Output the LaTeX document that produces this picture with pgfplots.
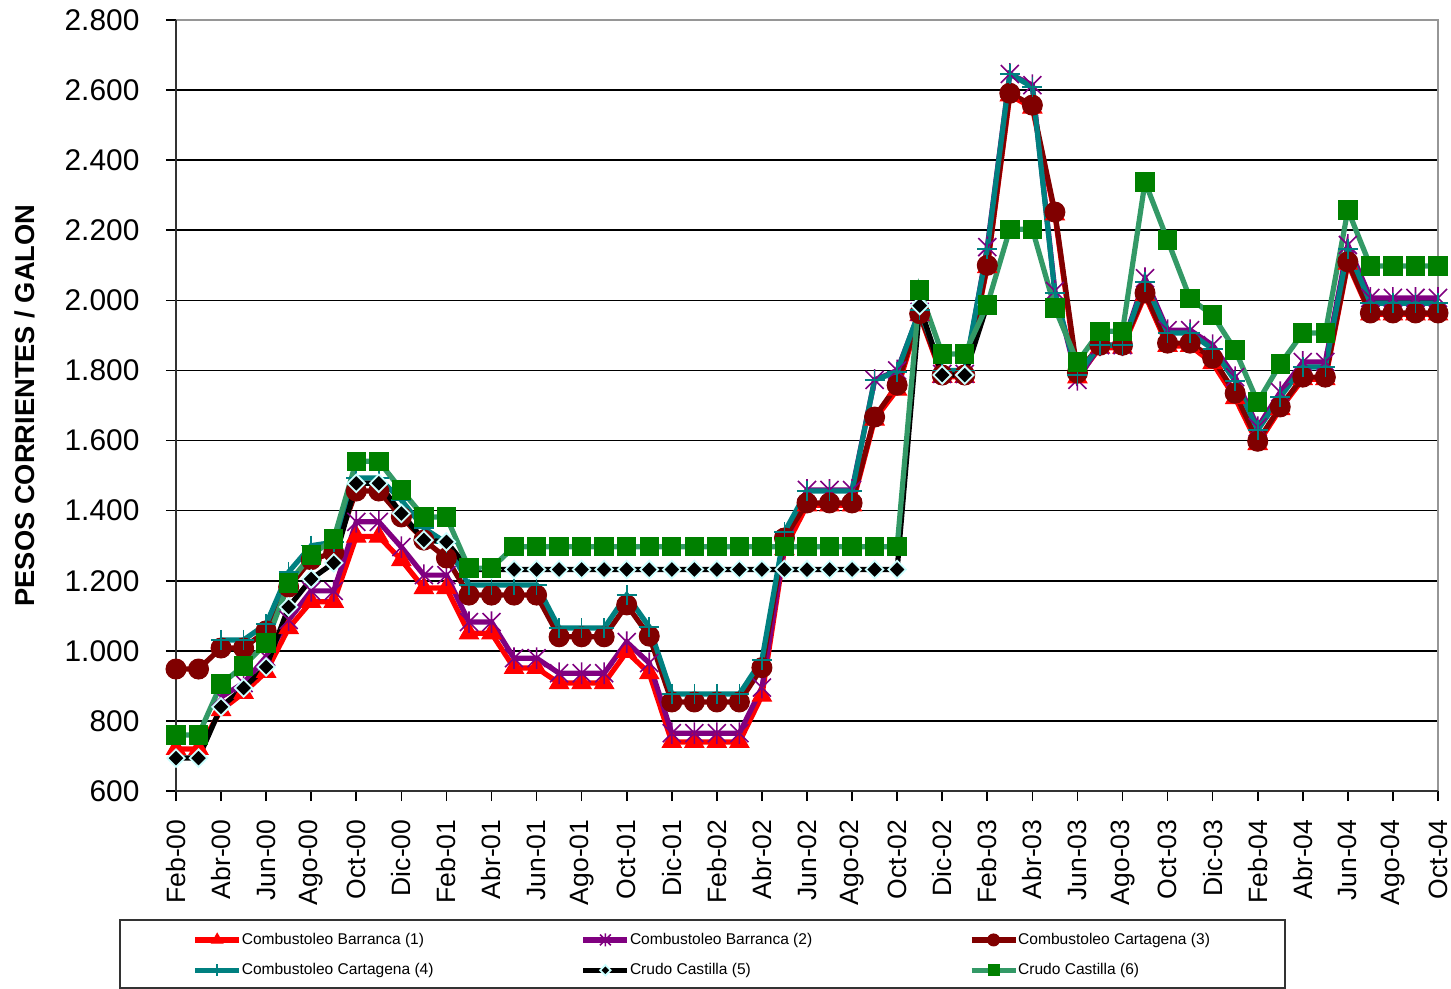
\documentclass[border=0pt]{standalone}
\usepackage{pgfplots}
\usepackage{pgfplotstable}
\pgfplotsset{compat=1.18}
\usepackage{fontspec}
\setmainfont{Liberation Sans}

\definecolor{cRed}{RGB}{255,0,0}
\definecolor{cPurple}{RGB}{128,0,128}
\definecolor{cDarkRed}{RGB}{128,0,0}
\definecolor{cTeal}{RGB}{0,128,128}
\definecolor{cCyan}{RGB}{204,255,255}
\definecolor{cSea}{RGB}{51,153,102}
\definecolor{cGreen}{RGB}{0,128,0}
\definecolor{cBorder}{RGB}{150,150,150}

% Excel style star: an x with a vertical bar
\pgfdeclareplotmark{xstar}{%
  \pgfpathmoveto{\pgfqpoint{-\pgfplotmarksize}{-\pgfplotmarksize}}%
  \pgfpathlineto{\pgfqpoint{\pgfplotmarksize}{\pgfplotmarksize}}%
  \pgfpathmoveto{\pgfqpoint{-\pgfplotmarksize}{\pgfplotmarksize}}%
  \pgfpathlineto{\pgfqpoint{\pgfplotmarksize}{-\pgfplotmarksize}}%
  \pgfpathmoveto{\pgfqpoint{0pt}{-1.2\pgfplotmarksize}}%
  \pgfpathlineto{\pgfqpoint{0pt}{1.2\pgfplotmarksize}}%
  \pgfusepathqstroke}

% month index from Feb-00 (0) to Oct-04 (56)
\pgfplotstableread{
i  s1   s2   s3   s4   s5   s6
0  720  nan  948  nan  694  760
1  720  nan  948  nan  694  760
2  831  868  1008 1031 840  905
3  880  908  1008 1031 894  957
4  940  983  1057 1076 954  1022
5  1065 1088 1182 1225 1125 1193
6  1140 1171 1260 1300 1205 1273
7  1140 1171 1280 1310 1251 1319
8  1326 1368 1456 1493 1478 1541
9  1326 1368 1456 1493 1478 1541
10 1259 1296 1382 1430 1392 1459
11 1179 1216 1316 1350 1316 1382
12 1179 1216 1265 1308 1311 1382
13 1050 1082 1159 1188 1232 1236
14 1050 1082 1159 1188 1232 1236
15 951  979  1159 1188 1232 1297
16 951  979  1159 1188 1232 1297
17 908  936  1040 1065 1232 1297
18 908  936  1040 1065 1232 1297
19 908  936  1040 1065 1232 1297
20 997  1025 1131 1159 1232 1297
21 936  965  1042 1068 1232 1297
22 740  765  854  877  1232 1297
23 740  765  854  877  1232 1297
24 740  765  854  877  1232 1297
25 740  765  854  877  1232 1297
26 872  895  952  974  1232 1297
27 1290 1300 1322 1339 1232 1297
28 1415 1459 1422 1456 1232 1297
29 1415 1459 1422 1456 1232 1297
30 1415 1459 1422 1456 1232 1297
31 1660 1773 1667 1773 1232 1297
32 1745 1800 1758 1796 1232 1297
33 1958 1967 1962 1972 1985 2029
34 1782 1790 1787 1800 1787 1847
35 1782 1790 1787 1800 1787 1847
36 2095 2152 2100 2146 1987 1987
37 2585 2646 2591 2646 nan  2203
38 2550 2614 2557 2609 nan  2203
39 2245 2027 2252 2021 nan  1978
40 1780 1773 1793 1787 nan  1824
41 1865 1872 1872 1872 nan  1912
42 1865 1872 1872 1872 nan  1912
43 2015 2063 2021 2052 nan  2338
44 1870 1915 1878 1907 nan  2172
45 1870 1915 1878 1907 nan  2005
46 1821 1872 1835 1861 nan  1958
47 1721 1781 1735 1770 nan  1858
48 1590 1638 1598 1630 nan  1710
49 1690 1738 1696 1724 nan  1818
50 1775 1824 1781 1810 nan  1907
51 1775 1824 1781 1810 nan  1907
52 2105 2158 2110 2146 nan  2258
53 1960 2007 1964 1992 nan  2098
54 1960 2007 1964 1992 nan  2098
55 1960 2007 1964 1992 nan  2098
56 1960 2007 1964 1992 nan  2098
}\prices

\begin{document}
\begin{tikzpicture}
\useasboundingbox (0,0) rectangle (725.5bp,494.5bp);
\begin{axis}[
  at={(88bp,99bp)}, anchor=south west,
  scale only axis, width=631bp, height=385.5bp,
  xmin=0, xmax=56, ymin=600, ymax=2800,
  clip=false,
  axis line style={draw=none},
  tick pos=left, tick align=outside,
  major tick length=5bp,
  tick style={black, line width=0.8bp},
  ymajorgrids, grid style={black, line width=0.8bp},
  ytick={600,800,...,2800},
  yticklabels={600,800,1.000,1.200,1.400,1.600,1.800,2.000,2.200,2.400,2.600,2.800},
  xtick={0,2,...,56},
  xticklabels={Feb-00,Abr-00,Jun-00,Ago-00,Oct-00,Dic-00,
               Feb-01,Abr-01,Jun-01,Ago-01,Oct-01,Dic-01,
               Feb-02,Abr-02,Jun-02,Ago-02,Oct-02,Dic-02,
               Feb-03,Abr-03,Jun-03,Ago-03,Oct-03,Dic-03,
               Feb-04,Abr-04,Jun-04,Ago-04,Oct-04},
  yticklabel style={font=\fontsize{15}{18}\selectfont, anchor=east, inner sep=0pt, xshift=-12bp},
  xticklabel style={font=\fontsize{13.3}{16}\selectfont, rotate=90, anchor=east, inner sep=0pt, xshift=-8bp},
  ylabel={PESOS CORRIENTES / GALON},
  ylabel style={at={(axis description cs:-0.1197,0.5)}, anchor=center,
                font=\bfseries\fontsize{13.7}{16}\selectfont},
  line width=2.6bp,
  legend columns=3,
  legend cell align=left,
  legend image code/.code={\draw[mark repeat=2,mark phase=2,#1,every mark/.append style={scale=0.6}] plot coordinates {(0bp,0bp) (11bp,0bp) (22bp,0bp)};},
  legend style={at={(axis description cs:0.01110,-0.2128)}, anchor=west,
                draw=none, fill=none, inner sep=0pt,
                nodes={inner sep=0pt},
                column sep=0pt, row sep=8bp,
                font=\fontsize{7.8}{9}\selectfont},
]
\addplot[cRed, mark=triangle*, mark size=5.5bp,
  mark options={fill=cRed, draw=cRed, line width=0.5bp}]
  table[x=i, y=s1] {\prices};
\addlegendentry{\makebox[169.5bp][l]{Combustoleo Barranca (1)}}
\addplot[cPurple, mark=xstar, mark size=4.5bp,
  mark options={draw=cPurple, line width=0.8bp}]
  table[x=i, y=s2] {\prices};
\addlegendentry{\makebox[169.5bp][l]{Combustoleo Barranca (2)}}
\addplot[cDarkRed, mark=*, mark size=5bp,
  mark options={fill=cDarkRed, draw=cDarkRed, line width=0.5bp}]
  table[x=i, y=s3] {\prices};
\addlegendentry{\makebox[120bp][l]{Combustoleo Cartagena (3)}}
\addplot[cTeal, mark=+, mark size=5bp,
  mark options={draw=cTeal, line width=0.8bp}]
  table[x=i, y=s4] {\prices};
\addlegendentry{\makebox[169.5bp][l]{Combustoleo Cartagena (4)}}
\addplot[black, mark=square*, mark size=3.1bp,
  mark options={rotate=45, fill=black, draw=cCyan, line width=0.9bp}]
  table[x=i, y=s5] {\prices};
\addlegendentry{\makebox[169.5bp][l]{Crudo Castilla (5)}}
\addplot[cSea, mark=square*, mark size=4.6bp,
  mark options={fill=cGreen, draw=cGreen, line width=0.5bp}]
  table[x=i, y=s6] {\prices};
\addlegendentry{\makebox[120bp][l]{Crudo Castilla (6)}}
% plot area border: grey top and right, dark left and bottom
\draw[cBorder, line width=1.2bp] (rel axis cs:0,1) -- (rel axis cs:1,1) -- (rel axis cs:1,0);
\draw[black!80, line width=1bp] (rel axis cs:0,1) -- (rel axis cs:0,0) -- (rel axis cs:1,0);
\end{axis}
\draw[black!80, line width=0.8bp] (60bp,0.6bp) rectangle (642.5bp,34.5bp);
\end{tikzpicture}
\end{document}
